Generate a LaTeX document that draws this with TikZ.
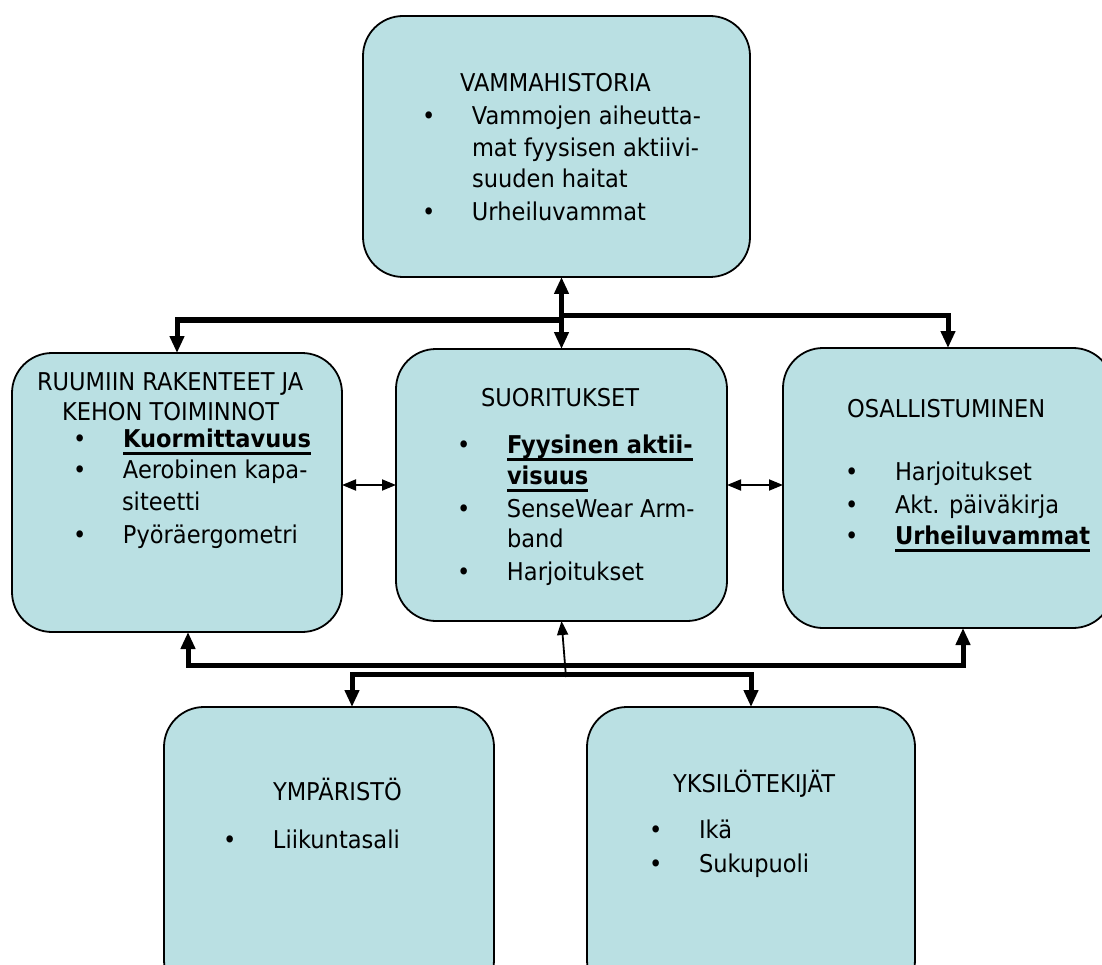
\documentclass[tikz,border=0pt]{standalone}
\usepackage{fontspec}
\setmainfont{DejaVu Sans}[FakeStretch=0.92]
\usetikzlibrary{arrows.meta,calc}
\definecolor{boxfill}{RGB}{186,224,227}
\newcommand{\ulx}[1]{\setbox0\hbox{#1}\rlap{\rule[-7.5pt]{\wd0}{2.2pt}}\box0}
\newcommand{\bul}{\makebox[49.8pt][l]{•}}
\tikzset{
  box/.style={draw=black, line width=1.8pt, fill=boxfill, rounded corners=40pt, inner sep=0pt, outer sep=0pt},
  txt/.style={anchor=base west, inner sep=0pt, outer sep=0pt},
  thk/.style={line width=5pt},
  thn/.style={line width=1.8pt},
  tipT/.tip={Triangle[length=17pt,width=14pt]},
  tipt/.tip={Triangle[length=14pt,width=11pt]},
}
\begin{document}
\begin{tikzpicture}[x=1pt,y=-1pt,font=\fontsize{24.5}{28}\selectfont]
\useasboundingbox (0,0) rectangle (1102,965);
\clip (0,0) rectangle (1102,965);
% boxes
\node[box, minimum width=387pt, minimum height=261pt] (top) at (556.5,146.5) {};
\node[box, minimum width=330pt, minimum height=279pt] (left) at (177,492.5) {};
\node[box, minimum width=331pt, minimum height=272pt] (mid) at (561.5,485) {};
\node[box, minimum width=330pt, minimum height=280pt] (right) at (948,488) {};
\node[box, minimum width=330pt, minimum height=293pt] (ymp) at (329,853.5) {};
\node[box, minimum width=328pt, minimum height=293pt] (yks) at (751,853.5) {};
% top texts
\node[txt] (t0) at (460,92) {VAMMAHISTORIA};
\node[txt] (t1) at (422.2,125) {\bul Vammojen aiheutta-};
\node[txt] (t2) at (472,157) {mat fyysisen aktiivi-};
\node[txt] (t3) at (472,188) {suuden haitat};
\node[txt] (t4) at (422.2,221) {\bul Urheiluvammat};
% left texts
\node[txt] (l0) at (37,390) {RUUMIIN RAKENTEET JA};
\node[txt] (l1) at (62,420) {KEHON TOIMINNOT};
\node[txt] (l2) at (73.2,447) {\bul\textbf{\ulx{Kuormittavuus}}};
\node[txt] (l3) at (73.2,478) {\bul Aerobinen kapa-};
\node[txt] (l4) at (122,510) {siteetti};
\node[txt] (l5) at (73.2,543) {\bul Pyöräergometri};
% middle texts
\node[txt] (m0) at (481,406) {SUORITUKSET};
\node[txt] (m1) at (457.2,453) {\bul\textbf{\ulx{Fyysinen aktii-}}};
\node[txt] (m2) at (507,484) {\textbf{\ulx{visuus}}};
\node[txt] (m3) at (457.2,517) {\bul SenseWear Arm-};
\node[txt] (m4) at (507,547) {band};
\node[txt] (m5) at (457.2,580) {\bul Harjoitukset};
% right texts
\node[txt] (r0) at (847,417) {OSALLISTUMINEN};
\node[txt] (r1) at (845.2,480) {\bul Harjoitukset};
\node[txt] (r2) at (845.2,513) {\bul Akt. päiväkirja};
\node[txt] (r3) at (845.2,544) {\bul\textbf{\ulx{Urheiluvammat}}};
% bottom texts
\node[txt] (y0) at (273,800) {YMPÄRISTÖ};
\node[txt] (y1) at (223.2,848) {\bul Liikuntasali};
\node[txt] (k0) at (673,792) {YKSILÖTEKIJÄT};
\node[txt] (k1) at (649.2,838) {\bul Ikä};
\node[txt] (k2) at (649.2,872) {\bul Sukupuoli};
% coordinates
\coordinate (jL) at ([yshift=29pt]mid.north);
\coordinate (jR) at ([yshift=33pt]mid.north);
\coordinate (h1) at ([yshift=-44pt]mid.south);
\coordinate (h2) at ([yshift=-53pt]mid.south);
\coordinate (ms) at ([xshift=4.5pt,yshift=-56pt]mid.south);
\coordinate (b1) at ([xshift=11pt]left.south);
\coordinate (b2) at ([xshift=15pt]right.south);
\coordinate (b3) at ([xshift=23pt]ymp.north);
\coordinate (b4) at (yks.north);
% top connectors
\draw[thk,tipT-tipT] (mid.north) -- (mid.north |- top.south);
\draw[thk,-tipT] (jL) -- (jL -| left.north) -- (left.north);
\draw[thk,-tipT] (jR) -- (jR -| right.north) -- (right.north);
% side connectors
\draw[thn,tipt-tipt] (mid.west) -- (mid.west -| left.east);
\draw[thn,tipt-tipt] (mid.east) -- (mid.east -| right.west);
% bottom connectors
\draw[thk,tipT-tipT] (b1) -- (b1 |- h1) -- (b2 |- h1) -- (b2);
\draw[thk,tipT-tipT] (b3) -- (b3 |- h2) -- (b4 |- h2) -- (b4);
\draw[thn,-tipt] (ms) -- (mid.south);
\end{tikzpicture}
\end{document}
